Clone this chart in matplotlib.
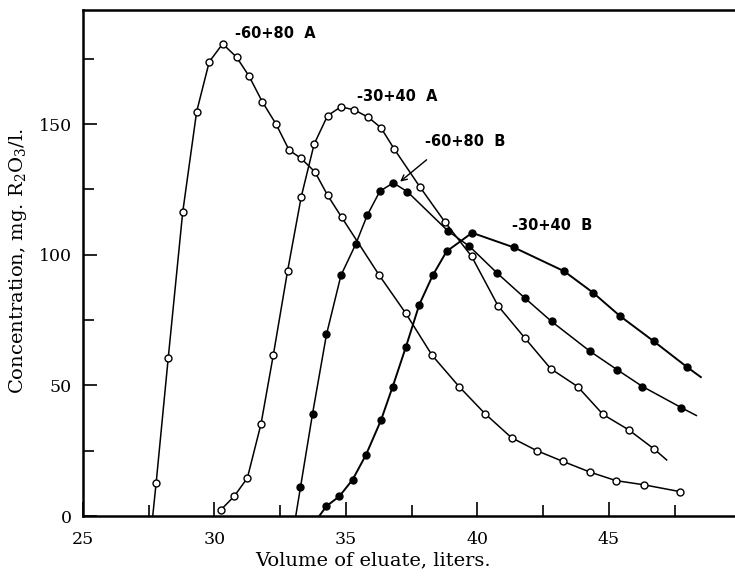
import matplotlib
matplotlib.use("Agg")
import matplotlib.pyplot as plt

plt.rcParams["mathtext.fontset"] = "dejavuserif"

# -60+80 A (open circles); first entry is the start of the drawn curve
a1_x = [27.65, 27.78, 28.24, 28.79, 29.32, 29.80, 30.31, 30.84, 31.31, 31.82,
        32.34, 32.84, 33.29, 33.82, 34.30, 34.84, 36.27, 37.27, 38.28, 39.30,
        40.29, 41.30, 42.25, 43.24, 44.30, 45.27, 46.33, 47.70]
a1_y = [0, 12.7, 60.5, 116.2, 154.7, 173.8, 180.7, 175.6, 168.4, 158.5,
        150.0, 140.0, 136.9, 131.7, 122.8, 114.3, 92.1, 77.7, 61.5, 49.6,
        39.2, 30.0, 25.1, 21.0, 16.8, 13.6, 12.0, 9.4]

# -30+40 A (open circles); last entry is the end of the drawn curve
a2_x = [30.25, 30.75, 31.25, 31.77, 32.24, 32.78, 33.30, 33.79, 34.30, 34.81,
        35.32, 35.85, 36.33, 36.84, 37.81, 38.76, 39.78, 40.79, 41.81, 42.79,
        43.81, 44.78, 45.76, 46.72, 47.20]
a2_y = [2.5, 7.6, 14.6, 35.3, 61.8, 93.8, 122.2, 142.3, 153.2, 156.6,
        155.4, 152.6, 148.6, 140.4, 126.0, 112.6, 99.4, 80.4, 68.1, 56.4,
        49.6, 38.9, 33.0, 25.7, 21.5]

# -60+80 B (filled); first and last entries are curve ends
b1_x = [33.09, 33.27, 33.73, 34.26, 34.81, 35.37, 35.81, 36.29, 36.80, 37.34,
        38.89, 39.69, 40.75, 41.81, 42.82, 44.28, 45.32, 46.28, 47.76, 48.33]
b1_y = [0, 11.0, 39.2, 69.5, 92.1, 104.0, 115.1, 124.3, 127.5, 124.1,
        109.0, 103.3, 93.0, 83.4, 74.5, 63.1, 56.0, 49.6, 41.5, 38.5]

# -30+40 B (filled); first and last entries are curve ends
b2_x = [33.98, 34.26, 34.75, 35.25, 35.76, 36.33, 36.78, 37.28, 37.79, 38.30,
        38.83, 39.80, 41.39, 43.30, 44.40, 45.42, 46.71, 47.98, 48.50]
b2_y = [0, 3.8, 7.6, 13.9, 23.4, 36.6, 49.6, 64.7, 80.9, 92.1,
        101.3, 108.4, 102.8, 93.7, 85.5, 76.6, 66.9, 57.0, 53.2]

fig = plt.figure(figsize=(7.35, 5.78), dpi=100)
ax = fig.add_axes([0.113, 0.107, 0.887, 0.876])

ms = 5
ax.plot(a1_x, a1_y, "k-", lw=1.1, marker="o", mfc="white", mec="k", ms=ms,
        mew=1.0, markevery=list(range(1, len(a1_x))))
ax.plot(a2_x, a2_y, "k-", lw=1.1, marker="o", mfc="white", mec="k", ms=ms,
        mew=1.0, markevery=list(range(0, len(a2_x) - 1)))
ax.plot(b1_x, b1_y, "k-", lw=1.1, marker="o", mfc="k", mec="k", ms=ms,
        markevery=list(range(1, len(b1_x) - 1)))
ax.plot(b2_x, b2_y, "k-", lw=1.4, marker="o", mfc="k", mec="k", ms=ms,
        markevery=list(range(1, len(b2_x) - 1)))

lab = dict(fontsize=10.5, family="DejaVu Sans", fontweight="bold",
           va="center", ha="left")
ax.text(30.78, 184.5, "-60+80  A", **lab)
ax.text(35.42, 160.6, "-30+40  A", **lab)
ax.text(38.0, 143.3, "-60+80  B", **lab)
ax.text(41.31, 111.3, "-30+40  B", **lab)
ax.annotate("", xy=(36.98, 127.3), xytext=(38.15, 137.0),
            arrowprops=dict(arrowstyle="->", color="k", lw=1.0))

ax.set_xlim(25, 49.8)
ax.set_ylim(0, 193.7)
ax.set_xticks([25, 30, 35, 40, 45])
ax.set_xticks([27.5, 32.5, 37.5, 42.5, 47.5], minor=True)
ax.set_yticks([0, 50, 100, 150])
ax.set_yticks([25, 75, 125, 175], minor=True)
ax.tick_params(which="both", direction="in", top=False, right=False,
               width=1.2, labelsize=12.5)
ax.tick_params(which="major", length=10)
ax.tick_params(which="minor", length=8)
ax.tick_params(axis="x", which="major", pad=11)
ax.tick_params(axis="y", which="major", pad=8)
for t in ax.get_xticklabels() + ax.get_yticklabels():
    t.set_family("DejaVu Serif")
ax.spines["right"].set_visible(False)
for s in ["left", "bottom", "top"]:
    ax.spines[s].set_linewidth(1.8)

ax.set_xlabel("Volume of eluate, liters.", family="DejaVu Serif", fontsize=14)
ax.xaxis.set_label_coords(0.445, -0.07)
ax.set_ylabel("Concentration, mg. R$_2$O$_3$/l.", family="DejaVu Serif",
              fontsize=14)
ax.yaxis.set_label_coords(-0.083, 0.503)

fig.savefig("out.png", dpi=100)
